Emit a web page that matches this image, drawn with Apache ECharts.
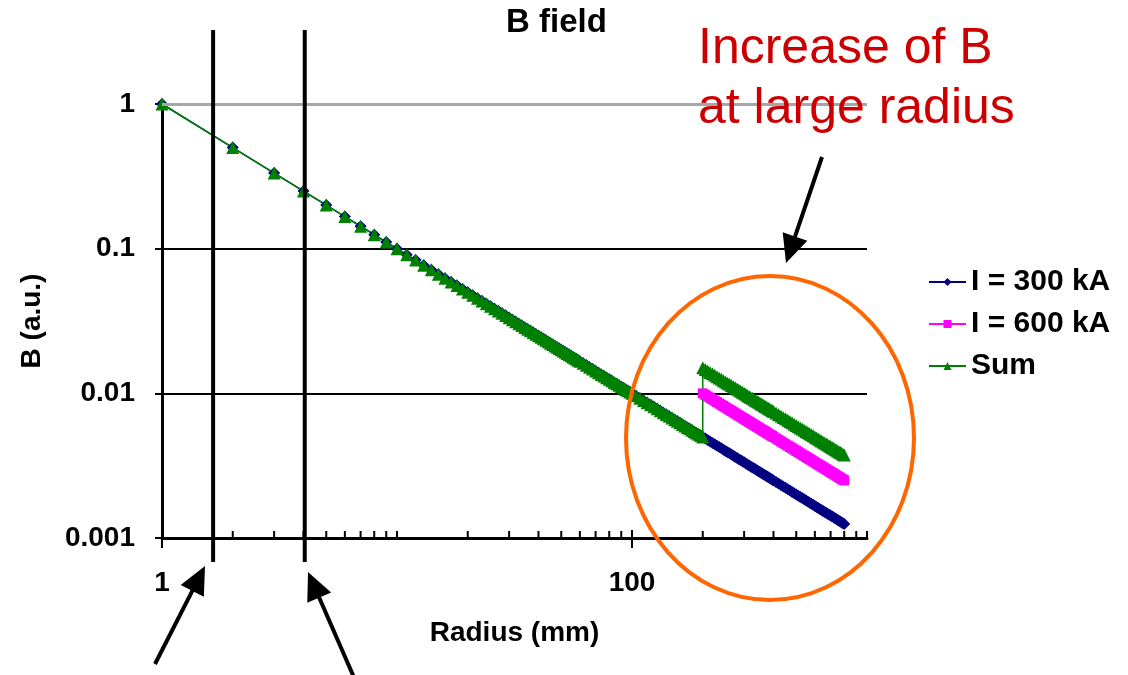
<!DOCTYPE html>
<html>
<head>
<meta charset="utf-8">
<script src="https://cdn.jsdelivr.net/npm/echarts@6/dist/echarts.min.js"></script>
<style>
  html, body { margin: 0; padding: 0; background: #fff; }
  #chart { width: 1128px; height: 675px; }
</style>
</head>
<body>
<div id="chart"></div>
<script>
const radiusInner = [1, 2, 3, 4, 5, 6, 7, 8, 9, 10,
    11, 12, 13, 14, 15, 16, 17, 18, 19, 20,
    21, 22, 23, 24, 25, 26, 27, 28, 29, 30,
    31, 32, 33, 34, 35, 36, 37, 38, 39, 40,
    41, 42, 43, 44, 45, 46, 47, 48, 49, 50,
    51, 52, 53, 54, 55, 56, 57, 58, 59, 60,
    62, 64, 66, 68, 70, 72, 74, 76, 78, 80,
    82, 84, 86, 88, 90, 92, 94, 96, 98, 100,
    104, 108, 112, 116, 120, 124, 128, 132, 136, 140,
    144, 148, 152, 156, 160, 164, 168, 172, 176, 180,
    184, 188, 192, 196, 200];
const bInner = [1, 0.5, 0.3333, 0.25, 0.2, 0.1667, 0.1429, 0.125, 0.1111, 0.1,
    0.09091, 0.08333, 0.07692, 0.07143, 0.06667, 0.0625, 0.05882, 0.05556, 0.05263, 0.05,
    0.04762, 0.04545, 0.04348, 0.04167, 0.04, 0.03846, 0.03704, 0.03571, 0.03448, 0.03333,
    0.03226, 0.03125, 0.0303, 0.02941, 0.02857, 0.02778, 0.02703, 0.02632, 0.02564, 0.025,
    0.02439, 0.02381, 0.02326, 0.02273, 0.02222, 0.02174, 0.02128, 0.02083, 0.02041, 0.02,
    0.01961, 0.01923, 0.01887, 0.01852, 0.01818, 0.01786, 0.01754, 0.01724, 0.01695, 0.01667,
    0.01613, 0.01563, 0.01515, 0.01471, 0.01429, 0.01389, 0.01351, 0.01316, 0.01282, 0.0125,
    0.0122, 0.0119, 0.01163, 0.01136, 0.01111, 0.01087, 0.01064, 0.01042, 0.0102, 0.01,
    0.009615, 0.009259, 0.008929, 0.008621, 0.008333, 0.008065, 0.007813, 0.007576, 0.007353, 0.007143,
    0.006944, 0.006757, 0.006579, 0.00641, 0.00625, 0.006098, 0.005952, 0.005814, 0.005682, 0.005556,
    0.005435, 0.005319, 0.005208, 0.005102, 0.005];

// radius beyond 200 mm
const radiusOuter = [200, 205, 210, 215, 220, 225, 230, 235, 240, 245,
    250, 255, 260, 265, 270, 275, 280, 285, 290, 295,
    300, 305, 310, 315, 320, 325, 330, 335, 340, 345,
    350, 355, 360, 365, 370, 375, 380, 385, 390, 395,
    400,
    410, 420, 430, 440, 450, 460, 470, 480, 490, 500,
    510, 520, 530, 540, 550, 560, 570, 580, 590, 600,
    610, 620, 630, 640, 650, 660, 670, 680, 690, 700,
    710, 720, 730, 740, 750, 760, 770, 780, 790, 800];
const b300Outer = [0.005, 0.004878, 0.004762, 0.004651, 0.004545, 0.004444, 0.004348, 0.004255, 0.004167, 0.004082,
    0.004, 0.003922, 0.003846, 0.003774, 0.003704, 0.003636, 0.003571, 0.003509, 0.003448, 0.00339,
    0.003333, 0.003279, 0.003226, 0.003175, 0.003125, 0.003077, 0.00303, 0.002985, 0.002941, 0.002899,
    0.002857, 0.002817, 0.002778, 0.00274, 0.002703, 0.002667, 0.002632, 0.002597, 0.002564, 0.002532,
    0.0025,
    0.002439, 0.002381, 0.002326, 0.002273, 0.002222, 0.002174, 0.002128, 0.002083, 0.002041, 0.002,
    0.001961, 0.001923, 0.001887, 0.001852, 0.001818, 0.001786, 0.001754, 0.001724, 0.001695, 0.001667,
    0.001639, 0.001613, 0.001587, 0.001563, 0.001538, 0.001515, 0.001493, 0.001471, 0.001449, 0.001429,
    0.001408, 0.001389, 0.00137, 0.001351, 0.001333, 0.001316, 0.001299, 0.001282, 0.001266, 0.00125];
const b600Outer = [0.01, 0.009756, 0.009524, 0.009302, 0.009091, 0.008889, 0.008696, 0.008511, 0.008333, 0.008163,
    0.008, 0.007843, 0.007692, 0.007547, 0.007407, 0.007273, 0.007143, 0.007018, 0.006897, 0.00678,
    0.006667, 0.006557, 0.006452, 0.006349, 0.00625, 0.006154, 0.006061, 0.00597, 0.005882, 0.005797,
    0.005714, 0.005634, 0.005556, 0.005479, 0.005405, 0.005333, 0.005263, 0.005195, 0.005128, 0.005063,
    0.005,
    0.004878, 0.004762, 0.004651, 0.004545, 0.004444, 0.004348, 0.004255, 0.004167, 0.004082, 0.004,
    0.003922, 0.003846, 0.003774, 0.003704, 0.003636, 0.003571, 0.003509, 0.003448, 0.00339, 0.003333,
    0.003279, 0.003226, 0.003175, 0.003125, 0.003077, 0.00303, 0.002985, 0.002941, 0.002899, 0.002857,
    0.002817, 0.002778, 0.00274, 0.002703, 0.002667, 0.002632, 0.002597, 0.002564, 0.002532, 0.0025];
const sumOuter = [0.015, 0.01463, 0.01429, 0.01395, 0.01364, 0.01333, 0.01304, 0.01277, 0.0125, 0.01224,
    0.012, 0.01176, 0.01154, 0.01132, 0.01111, 0.01091, 0.01071, 0.01053, 0.01034, 0.01017,
    0.01, 0.009836, 0.009677, 0.009524, 0.009375, 0.009231, 0.009091, 0.008955, 0.008824, 0.008696,
    0.008571, 0.008451, 0.008333, 0.008219, 0.008108, 0.008, 0.007895, 0.007792, 0.007692, 0.007595,
    0.0075,
    0.007317, 0.007143, 0.006977, 0.006818, 0.006667, 0.006522, 0.006383, 0.00625, 0.006122, 0.006,
    0.005882, 0.005769, 0.00566, 0.005556, 0.005455, 0.005357, 0.005263, 0.005172, 0.005085, 0.005,
    0.004918, 0.004839, 0.004762, 0.004688, 0.004615, 0.004545, 0.004478, 0.004412, 0.004348, 0.004286,
    0.004225, 0.004167, 0.00411, 0.004054, 0.004, 0.003947, 0.003896, 0.003846, 0.003797, 0.00375];

const seriesNames = ['I = 300 kA', 'I = 600 kA', 'Sum'];
const xTickMajor = [1, 100];
const xTickMinor = [2, 3, 4, 5, 6, 7, 8, 9, 10, 20, 30, 40, 50, 60, 70, 80, 90,
    200, 300, 400, 500, 600, 700, 800, 900, 1000];
const yTickLabels = ['0.001', '0.01', '0.1', '1'];
// the two vertical marker lines (radius, mm)
const markerRadius = [1.65, 4.05];

const FONT = '"Liberation Sans", Arial, sans-serif';

function pairs(xs, ys) {
    return xs.map((x, i) => [x, ys[i]]);
}

const data300 = pairs(radiusInner, bInner).concat(pairs(radiusOuter, b300Outer).slice(1));
const data600 = pairs(radiusOuter, b600Outer);
const dataSum = pairs(radiusInner, bInner).concat(pairs(radiusOuter, sumOuter));

// tick marks drawn through the x scale
function tickSeries(values, up, down) {
    return {
        type: 'custom',
        silent: true,
        z: 10,
        data: values.map(v => [v, 0.001]),
        renderItem: function (params, api) {
            const p = api.coord([api.value(0), 0.001]);
            return {
                type: 'line',
                shape: { x1: p[0], y1: p[1] - up, x2: p[0], y2: p[1] + down },
                style: { stroke: '#000', lineWidth: 2 }
            };
        }
    };
}

const myChart = echarts.init(document.getElementById('chart'));

const boldText = { fontFamily: FONT, fontSize: 28, fontWeight: 'bold', color: '#000' };

option = {
    animation: false,
    title: {
        text: 'B field',
        left: 506,
        top: 6,
        padding: 0,
        textStyle: { fontFamily: FONT, fontSize: 33, fontWeight: 'bold', color: '#000' }
    },
    legend: {
        data: seriesNames,
        orient: 'vertical',
        left: 928,
        top: 267,
        padding: 0,
        itemWidth: 37,
        itemHeight: 10,
        itemGap: 12,
        selectedMode: false,
        textStyle: { fontFamily: FONT, fontSize: 30, fontWeight: 'bold', color: '#000', lineHeight: 30 }
    },
    grid: { left: 162, top: 104, width: 705, height: 434 },
    xAxis: {
        type: 'log',
        logBase: 10,
        min: 1,
        max: 1000,
        name: 'Radius (mm)',
        nameLocation: 'middle',
        nameGap: 81,
        nameTextStyle: boldText,
        axisLine: { lineStyle: { color: '#000', width: 3 } },
        axisTick: { show: false },
        splitLine: { show: false },
        axisLabel: Object.assign({
            margin: 31,
            formatter: function (v) {
                const r = Math.round(v);
                return (xTickMajor.indexOf(r) >= 0 && Math.abs(v - r) < 1e-6) ? String(r) : '';
            }
        }, boldText)
    },
    yAxis: {
        type: 'log',
        logBase: 10,
        min: 0.001,
        max: 1,
        name: 'B (a.u.)',
        nameLocation: 'middle',
        nameGap: 116,
        nameRotate: 90,
        nameTextStyle: boldText,
        axisLine: { lineStyle: { color: '#000', width: 3 } },
        axisTick: { length: 7, lineStyle: { color: '#000', width: 2 } },
        axisLabel: Object.assign({
            margin: 27,
            formatter: function (v) {
                return yTickLabels[Math.round(Math.log10(v)) + 3];
            }
        }, boldText),
        splitLine: {
            show: true,
            showMinLine: false,
            showMaxLine: false,
            lineStyle: { color: '#000', width: 2 }
        }
    },
    series: [
        {
            name: seriesNames[0],
            type: 'line',
            data: data300,
            symbol: 'diamond',
            symbolSize: 12,
            showAllSymbol: true,
            itemStyle: { color: '#000080' },
            lineStyle: { color: '#000080', width: 1.5 },
            markLine: {
                silent: true,
                symbol: 'none',
                label: { show: false },
                lineStyle: { color: '#a6a6a6', width: 3, type: 'solid' },
                data: [{ yAxis: 1 }]
            }
        },
        {
            name: seriesNames[1],
            type: 'line',
            data: data600,
            symbol: 'rect',
            symbolSize: 10,
            showAllSymbol: true,
            itemStyle: { color: '#FF00FF' },
            lineStyle: { color: '#FF00FF', width: 1.5 }
        },
        {
            name: seriesNames[2],
            type: 'line',
            data: dataSum,
            symbol: 'triangle',
            symbolSize: 13,
            showAllSymbol: true,
            itemStyle: { color: '#008000' },
            lineStyle: { color: '#008000', width: 1.5 }
        },
        tickSeries(xTickMajor, 8, 10),
        tickSeries(xTickMinor, 7, 0)
    ]
};

myChart.setOption(option);

// annotations: marker lines, ellipse, arrows, red note
function arrow(tail, tip) {
    const dx = tip[0] - tail[0], dy = tip[1] - tail[1];
    const len = Math.sqrt(dx * dx + dy * dy);
    const ux = dx / len, uy = dy / len;
    const headLen = 28, half = 13;
    const bx = tip[0] - ux * headLen, by = tip[1] - uy * headLen;
    return [
        {
            type: 'line',
            shape: { x1: tail[0], y1: tail[1], x2: bx + ux * 4, y2: by + uy * 4 },
            style: { stroke: '#000', lineWidth: 4 }
        },
        {
            type: 'polygon',
            shape: { points: [tip, [bx - uy * half, by + ux * half], [bx + uy * half, by - ux * half]] },
            style: { fill: '#000' }
        }
    ];
}

const graphics = [];
markerRadius.forEach(function (r) {
    const x = myChart.convertToPixel({ xAxisIndex: 0 }, r);
    graphics.push({
        type: 'line',
        shape: { x1: x, y1: 30, x2: x, y2: 562 },
        style: { stroke: '#000', lineWidth: 4 },
        z: 20
    });
});
graphics.push({
    type: 'ellipse',
    shape: { cx: 770, cy: 438, rx: 144, ry: 162 },
    style: { fill: 'none', stroke: '#FF6600', lineWidth: 4 },
    z: 20
});
graphics.push.apply(graphics, arrow([822, 157], [786, 263]));
graphics.push.apply(graphics, arrow([155, 664], [205, 566]));
graphics.push.apply(graphics, arrow([356, 682], [308, 572]));
graphics.push({
    type: 'text',
    x: 698,
    y: 49,
    style: { text: 'Increase of B', font: '50px ' + FONT, fill: '#CC0000', verticalAlign: 'middle' },
    z: 20
});
graphics.push({
    type: 'text',
    x: 698,
    y: 109,
    style: { text: 'at large radius', font: '50px ' + FONT, fill: '#CC0000', verticalAlign: 'middle' },
    z: 20
});

myChart.setOption({ graphic: graphics });
</script>
</body>
</html>
